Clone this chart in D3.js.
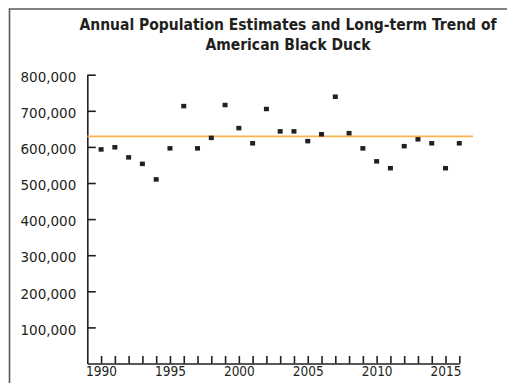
<!DOCTYPE html>
<html>
<head>
<meta charset="utf-8">
<script src="https://cdn.jsdelivr.net/npm/d3@7"></script>
<style>
  html, body { margin: 0; padding: 0; background: #fff; }
  svg { display: block; }
</style>
</head>
<body>
<script>
// ---- data ----
const years = [1990,1991,1992,1993,1994,1995,1996,1997,1998,1999,2000,2001,2002,2003,2004,2005,2006,2007,2008,2009,2010,2011,2012,2013,2014,2015,2016];
const population = [593000,599000,571000,553000,510000,596000,713000,596000,625000,716000,652000,610000,705000,643000,643000,616000,635000,739000,638000,596000,560000,541000,602000,621000,610000,541000,610000];
const trendValue = 629000;
const trendYears = [1989, 2017];
const yTickValues = [100000,200000,300000,400000,500000,600000,700000,800000];
const xLabelYears = [1990,1995,2000,2005,2010,2015];
const titleLines = ["Annual Population Estimates and Long-term Trend of", "American Black Duck"];

// ---- layout ----
const W = 507, H = 383;
const ink = "#231f20";
const svg = d3.select("body").append("svg").attr("width", W).attr("height", H);

// frame
svg.append("path")
  .attr("d", `M9.5,${H} V9 H${W}`)
  .attr("fill", "none").attr("stroke", "#58595b").attr("stroke-width", 1.6);

// title
svg.selectAll("text.title").data(titleLines).join("text")
  .attr("class", "title")
  .attr("x", 288).attr("y", (d, i) => 30 + i * 20)
  .attr("text-anchor", "middle")
  .attr("font-family", "'DejaVu Sans Condensed', 'DejaVu Sans', sans-serif")
  .attr("font-weight", "bold")
  .attr("font-size", 15.5)
  .attr("fill", ink)
  .text(d => d);

const x = d3.scaleLinear().domain([1989, 2016]).range([87.3, 459.3]);
const y = d3.scaleLinear().domain([0, 800000]).range([363.5, 74.7]);

const fmt = d3.format(",");

// y axis
const gy = svg.append("g").attr("transform", `translate(${x(1989)},0)`)
  .call(d3.axisLeft(y).tickValues(yTickValues).tickFormat(fmt).tickSizeInner(-8.5).tickSizeOuter(0).tickPadding(11));
gy.select(".domain").attr("stroke", ink).attr("stroke-width", 1.6);
gy.selectAll(".tick line").attr("stroke", ink).attr("stroke-width", 1.6);
gy.selectAll(".tick text")
  .attr("font-family", "'DejaVu Sans', sans-serif")
  .attr("font-size", 13.5)
  .attr("dy", "0.5em")
  .attr("fill", ink);

// x axis
const gx = svg.append("g").attr("transform", `translate(0,${y(0)})`)
  .call(d3.axisBottom(x).tickValues(years).tickFormat(d => xLabelYears.includes(d) ? String(d) : "")
    .tickSizeInner(-7.5).tickSizeOuter(0).tickPadding(3));
gx.select(".domain").attr("stroke", ink).attr("stroke-width", 1.6);
gx.selectAll(".tick line").attr("stroke", ink).attr("stroke-width", 1.6);
gx.selectAll(".tick text")
  .attr("font-family", "'DejaVu Sans Condensed', 'DejaVu Sans', sans-serif")
  .attr("font-size", 13.5)
  .attr("fill", ink);

// trend line
svg.append("line")
  .attr("x1", x(trendYears[0])).attr("x2", x(trendYears[1]))
  .attr("y1", y(trendValue)).attr("y2", y(trendValue))
  .attr("stroke", "#f9b351").attr("stroke-width", 1.8);

// points
const pw = 5, ph = 4.5;
svg.selectAll("rect.pt").data(years.map((yr, i) => ({yr, v: population[i]}))).join("rect")
  .attr("class", "pt")
  .attr("x", d => x(d.yr) - pw / 2)
  .attr("y", d => y(d.v) - ph / 2)
  .attr("width", pw).attr("height", ph)
  .attr("fill", ink);
</script>
</body>
</html>
